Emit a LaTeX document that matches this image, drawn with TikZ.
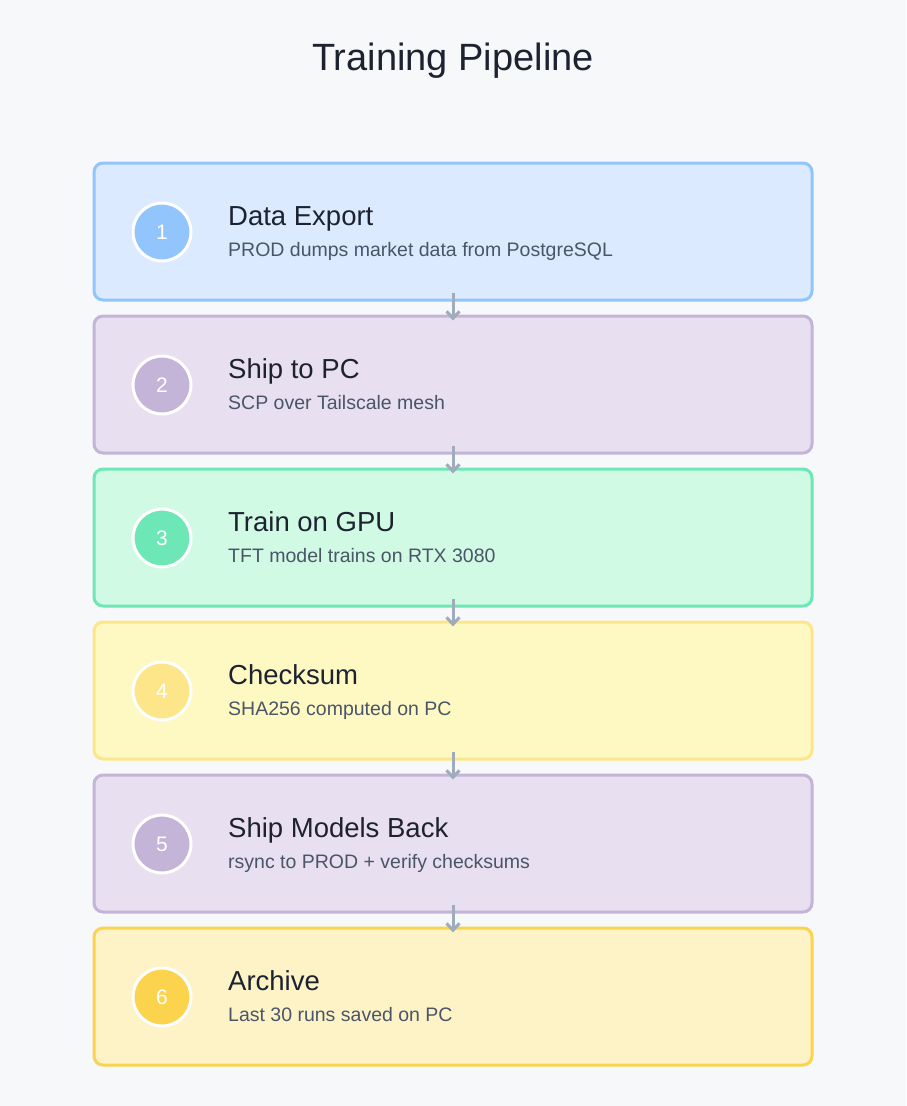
\documentclass[tikz,border=0pt]{standalone}
\usepackage{fontspec}
\setmainfont{Liberation Sans}
\usepackage{xcolor}
\usepackage{tikz}
\usetikzlibrary{arrows.meta}
\definecolor{bg}{HTML}{F7F8FA}
\definecolor{ink}{HTML}{1C2230}
\definecolor{sub}{HTML}{4A5568}
\definecolor{flow}{HTML}{A0ABBC}
\definecolor{blueF}{HTML}{DBEAFE}
\definecolor{blueD}{HTML}{93C5FD}
\definecolor{lilacF}{HTML}{E8DFF0}
\definecolor{lilacD}{HTML}{C4B4D7}
\definecolor{mintF}{HTML}{D1FAE5}
\definecolor{mintD}{HTML}{6EE7B7}
\definecolor{lemonF}{HTML}{FEF9C3}
\definecolor{lemonD}{HTML}{FDE68A}
\definecolor{amberF}{HTML}{FEF3C7}
\definecolor{amberD}{HTML}{FCD34D}
\tikzset{
  stage/.style={rectangle, rounded corners=9pt, line width=3pt,
    minimum width=718pt, minimum height=137pt, inner sep=0pt},
  badge/.style={circle, draw=white, line width=3pt, minimum size=58pt,
    inner sep=0pt, text=white, font=\fontsize{21}{25}\selectfont},
  head/.style={anchor=base west, inner sep=0pt, text=ink,
    font=\fontsize{27.5}{32}\selectfont},
  desc/.style={anchor=base west, inner sep=0pt, text=sub,
    font=\fontsize{19.5}{23}\selectfont},
  flowarrow/.style={draw=flow, line width=3pt,
    -{Straight Barb[length=7pt,width=13pt,line width=3pt]}},
}

\begin{document}
\begin{tikzpicture}[x=1pt,y=-1pt]
  \fill[bg] (0,0) rectangle (906,1106);
  \useasboundingbox (0,0) rectangle (906,1106);
  \node[anchor=base, text=ink, font=\fontsize{38}{44}\selectfont] (title) at (453,70) {Training Pipeline};
  % stages
  \node[stage, fill=blueF, draw=blueD] (s1) at (453,231.5) {};
  \node[stage, fill=lilacF, draw=lilacD] (s2) at (453,384.5) {};
  \node[stage, fill=mintF, draw=mintD] (s3) at (453,537.5) {};
  \node[stage, fill=lemonF, draw=lemonD] (s4) at (453,690.5) {};
  \node[stage, fill=lilacF, draw=lilacD] (s5) at (453,843.5) {};
  \node[stage, fill=amberF, draw=amberD] (s6) at (453,996.5) {};
  % badges
  \node[badge, fill=blueD] (n1) at (162,232) {1};
  \node[badge, fill=lilacD] (n2) at (162,385) {2};
  \node[badge, fill=mintD] (n3) at (162,538) {3};
  \node[badge, fill=lemonD] (n4) at (162,691) {4};
  \node[badge, fill=lilacD] (n5) at (162,844) {5};
  \node[badge, fill=amberD] (n6) at (162,997) {6};
  % labels
  \node[head] (h1) at (228,225) {Data Export};
  \node[desc] (d1) at (228,256) {PROD dumps market data from PostgreSQL};
  \node[head] (h2) at (228,378) {Ship to PC};
  \node[desc] (d2) at (228,409) {SCP over Tailscale mesh};
  \node[head] (h3) at (228,531) {Train on GPU};
  \node[desc] (d3) at (228,562) {TFT model trains on RTX 3080};
  \node[head] (h4) at (228,684) {Checksum};
  \node[desc] (d4) at (228,715) {SHA256 computed on PC};
  \node[head] (h5) at (228,837) {Ship Models Back};
  \node[desc] (d5) at (228,868) {rsync to PROD + verify checksums};
  \node[head] (h6) at (228,990) {Archive};
  \node[desc] (d6) at (228,1021) {Last 30 runs saved on PC};
  % arrows
  \foreach \a/\b in {s1/s2,s2/s3,s3/s4,s4/s5,s5/s6}
    \draw[flowarrow, shorten <=-9pt, shorten >=-6pt] (\a.south) -- (\b.north);
\end{tikzpicture}
\end{document}
